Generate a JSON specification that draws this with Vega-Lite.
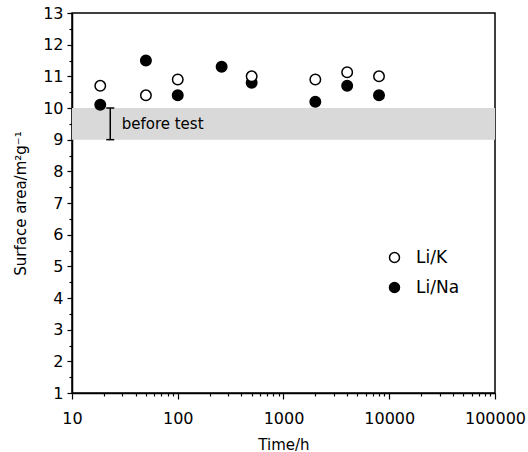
{
  "$schema": "https://vega.github.io/schema/vega-lite/v6.json",
  "width": 423,
  "height": 380,
  "autosize": {"type": "none"},
  "padding": {"left": 72, "top": 13, "right": 33, "bottom": 59},
  "background": "white",
  "config": {
    "view": {"stroke": "black", "strokeWidth": 1.5},
    "font": "DejaVu Sans",
    "axis": {
      "grid": false,
      "domainColor": "black",
      "domainWidth": 1.5,
      "tickColor": "black",
      "tickWidth": 1.2,
      "labelColor": "black",
      "labelFont": "DejaVu Sans",
      "labelFontSize": 16,
      "labelOverlap": false,
      "titleFont": "DejaVu Sans",
      "titleFontSize": 15,
      "titleFontWeight": "normal",
      "titleColor": "black"
    }
  },
  "datasets": {
    "points": [
      {"x": 18.5, "y": 10.1, "series": "Li/Na"},
      {"x": 50, "y": 11.5, "series": "Li/Na"},
      {"x": 100, "y": 10.4, "series": "Li/Na"},
      {"x": 260, "y": 11.3, "series": "Li/Na"},
      {"x": 500, "y": 10.8, "series": "Li/Na"},
      {"x": 2000, "y": 10.2, "series": "Li/Na"},
      {"x": 4000, "y": 10.7, "series": "Li/Na"},
      {"x": 8000, "y": 10.4, "series": "Li/Na"},
      {"x": 18.5, "y": 10.7, "series": "Li/K"},
      {"x": 50, "y": 10.4, "series": "Li/K"},
      {"x": 100, "y": 10.9, "series": "Li/K"},
      {"x": 500, "y": 11.0, "series": "Li/K"},
      {"x": 2000, "y": 10.9, "series": "Li/K"},
      {"x": 4000, "y": 11.13, "series": "Li/K"},
      {"x": 8000, "y": 11.0, "series": "Li/K"}
    ],
    "band": [{"x": 10, "x2": 100000, "y": 9, "y2": 10}],
    "bar": [{"x": 23, "y": 9, "y2": 10}],
    "caps": [{"x": 23, "y": 9}, {"x": 23, "y": 10}],
    "label": [{"x": 29.5, "y": 9.5, "label": "before test"}]
  },
  "encoding": {
    "x": {
      "field": "x", "type": "quantitative",
      "scale": {"type": "log", "domain": [10, 100000], "nice": false},
      "axis": {
        "title": "Time/h",
        "values": [10,20,30,40,50,60,70,80,90,100,200,300,400,500,600,700,800,900,1000,2000,3000,4000,5000,6000,7000,8000,9000,10000,20000,30000,40000,50000,60000,70000,80000,90000,100000],
        "format": "d",
        "labelExpr": "indexof(['10','100','1000','10000','100000'], datum.label) >= 0 ? datum.label : ''",
        "labelOverlap": false,
        "labelFlush": false,
        "labelPadding": 11,
        "tickSize": {"condition": {"test": "indexof([10,100,1000,10000,100000], datum.value) >= 0", "value": 6}, "value": 3},
        "titlePadding": 11
      }
    },
    "y": {
      "field": "y", "type": "quantitative",
      "scale": {"domain": [1, 13], "nice": false, "zero": false},
      "axis": {
        "title": "Surface area/m²g⁻¹",
        "values": [1,1.5,2,2.5,3,3.5,4,4.5,5,5.5,6,6.5,7,7.5,8,8.5,9,9.5,10,10.5,11,11.5,12,12.5,13],
        "labelExpr": "datum.value % 1 == 0 ? format(datum.value, 'd') : ''",
        "labelOverlap": false,
        "labelPadding": 4,
        "tickSize": {"condition": {"test": "datum.value % 1 == 0", "value": 5}, "value": 3},
        "titlePadding": 14
      }
    }
  },
  "layer": [
    {
      "data": {"name": "band"},
      "mark": {"type": "rect", "color": "#d9d9d9"},
      "encoding": {
        "x2": {"field": "x2"},
        "y2": {"field": "y2"}
      }
    },
    {
      "data": {"name": "bar"},
      "mark": {"type": "rule", "color": "black", "strokeWidth": 1.5},
      "encoding": {
        "y2": {"field": "y2"}
      }
    },
    {
      "data": {"name": "caps"},
      "mark": {"type": "tick", "orient": "horizontal", "size": 8, "thickness": 1.5, "color": "black", "opacity": 1},
      "encoding": {}
    },
    {
      "data": {"name": "label"},
      "mark": {"type": "text", "align": "left", "baseline": "middle", "font": "DejaVu Sans", "fontSize": 15, "color": "black"},
      "encoding": {
        "text": {"field": "label"}
      }
    },
    {
      "data": {"name": "points"},
      "mark": {"type": "point", "shape": "circle", "filled": true, "size": 110, "stroke": "black", "strokeWidth": 1.5, "opacity": 1},
      "encoding": {
        "fill": {
          "field": "series", "type": "nominal",
          "scale": {"domain": ["Li/K", "Li/Na"], "range": ["white", "black"]},
          "legend": {
            "title": null,
            "orient": "none",
            "legendX": 314,
            "legendY": 236,
            "padding": 0,
            "symbolType": "circle",
            "symbolSize": 100,
            "symbolStrokeColor": "black",
            "symbolStrokeWidth": 1.5,
            "symbolOpacity": 1,
            "labelFont": "DejaVu Sans",
            "labelFontSize": 17,
            "labelColor": "black",
            "labelOffset": 13,
            "rowPadding": 12
          }
        }
      }
    }
  ]
}
